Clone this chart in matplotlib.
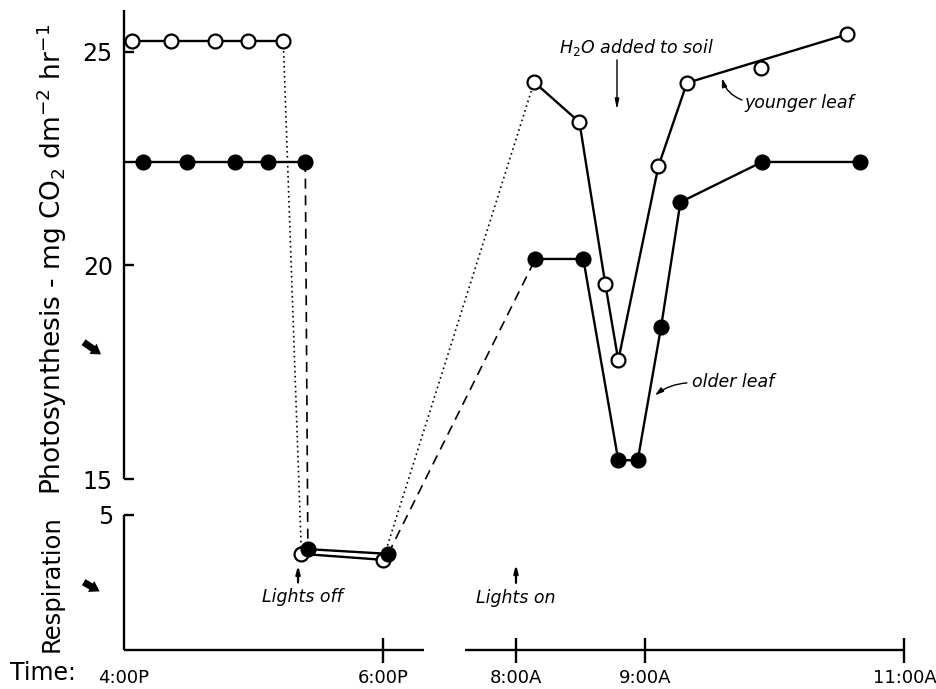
import numpy as np
import matplotlib.pyplot as plt

plt.rcParams['font.family'] = ['DejaVu Sans']
plt.rcParams['mathtext.fontset'] = 'dejavusans'

# clock time in decimal hours (16-18 = evening, 8-11 = next morning)
young_eve_t = [16.06, 16.36, 16.70, 16.96, 17.23]
young_eve_v = [25.25, 25.25, 25.25, 25.25, 25.25]
old_eve_t = [16.15, 16.49, 16.86, 17.11, 17.40]
old_eve_v = [22.42, 22.42, 22.42, 22.42, 22.42]

# respiration (dark period)
young_resp_t = [17.37, 18.00]
young_resp_v = [4.09, 3.95]
old_resp_t = [17.42, 18.04]
old_resp_v = [4.20, 4.09]

# next morning
young_morn_t = [8.14, 8.49, 8.69, 8.79, 9.10, 9.32, 10.56]
young_morn_v = [24.29, 23.35, 19.56, 17.78, 22.32, 24.27, 25.41]
young_extra_t = [9.89]
young_extra_v = [24.62]
old_morn_t = [8.15, 8.52, 8.79, 8.94, 9.12, 9.27, 9.90, 10.66]
old_morn_v = [20.15, 20.15, 15.44, 15.44, 18.55, 21.48, 22.42, 22.42]

tick_times = [16, 18, 8, 9, 11]
tick_labels = ['4:00P', '6:00P', '8:00A', '9:00A', '11:00A']
photo_ticks = [15, 20, 25]
resp_ticks = [5]

# the night is cut out of the time axis, respiration panel sits under the 15 line
MORNING_SHIFT = 4.973
RESP_SHIFT = 9.16


def xpos(h):
    h = np.asarray(h, dtype=float)
    return np.where(h >= 12, h - 16, h - MORNING_SHIFT)


def resp(r):
    return np.asarray(r, dtype=float) + RESP_SHIFT


fig = plt.figure(figsize=(9.36, 6.89), dpi=100)
ax = fig.add_axes([124 / 936, 39 / 689, 796 / 936, 640 / 689])
ax.set_xlim(0, 6.147)
ax.set_ylim(11.0, 25.976)
for s in ax.spines.values():
    s.set_visible(False)

lw = 1.7
open_style = dict(marker='o', ms=10, mfc='white', mec='black', mew=1.6, color='black', lw=lw, zorder=4)
fill_style = dict(marker='o', ms=10, mfc='black', mec='black', mew=1.6, color='black', lw=lw, zorder=4)
dot = dict(color='black', lw=1.2, ls=(0, (1, 2)), zorder=2)
dash = dict(color='black', lw=1.2, ls=(0, (6, 4)), zorder=2)

# evening photosynthesis, lines start at the axis
ax.plot(xpos([16, young_eve_t[0]]), [young_eve_v[0]] * 2, color='black', lw=lw, zorder=3)
ax.plot(xpos([16, old_eve_t[0]]), [old_eve_v[0]] * 2, color='black', lw=lw, zorder=3)
ax.plot(xpos(young_eve_t), young_eve_v, **open_style)
ax.plot(xpos(old_eve_t), old_eve_v, **fill_style)

# drop to respiration at lights off
ax.plot(xpos([young_eve_t[-1], young_resp_t[0]]), [young_eve_v[-1], resp(young_resp_v[0])], **dot)
ax.plot(xpos([old_eve_t[-1], old_resp_t[0]]), [old_eve_v[-1], resp(old_resp_v[0])], **dash)

ax.plot(xpos(young_resp_t), resp(young_resp_v), **open_style)
ax.plot(xpos(old_resp_t), resp(old_resp_v), **fill_style)

# overnight connection to the morning
ax.plot(xpos([young_resp_t[-1], young_morn_t[0]]), [resp(young_resp_v[-1]), young_morn_v[0]], **dot)
ax.plot(xpos([old_resp_t[-1], old_morn_t[0]]), [resp(old_resp_v[-1]), old_morn_v[0]], **dash)

ax.plot(xpos(young_morn_t), young_morn_v, **open_style)
ax.plot(xpos(young_extra_t), young_extra_v, ls='none', **{k: v for k, v in open_style.items() if k != 'lw'})
ax.plot(xpos(old_morn_t), old_morn_v, **fill_style)

# axis lines (broken)
axk = dict(color='black', lw=lw, clip_on=False, solid_capstyle='butt', zorder=5)
ax.plot([0, 0], [15, 25.976], **axk)
ax.plot([0, 0], [11.0, float(resp(5))], **axk)
ax.plot([0, 2.32], [11.0, 11.0], **axk)
ax.plot([2.63, float(xpos(11))], [11.0, 11.0], **axk)

ax.set_yticks(photo_ticks + list(resp(resp_ticks)),
              labels=[str(t) for t in photo_ticks] + [str(t) for t in resp_ticks])
ax.tick_params(axis='y', direction='in', length=7, width=lw, labelsize=17, pad=8)
ax.set_xticks(xpos(tick_times), labels=tick_labels)
ax.tick_params(axis='x', direction='inout', length=18, width=lw, labelsize=13, pad=5)
ax.xaxis.get_major_ticks()[0].tick1line.set_visible(False)

fig.text(10 / 936, 1 - 673 / 689, 'Time:', fontsize=17, ha='left', va='center')
fig.text(52 / 936, 1 - 259 / 689, 'Photosynthesis - mg CO$_2$ dm$^{-2}$ hr$^{-1}$',
         rotation=90, fontsize=19, ha='center', va='center')
fig.text(52 / 936, 1 - 584 / 689, 'Respiration', rotation=90, fontsize=17.5,
         ha='center', va='center')

# annotations
it = dict(fontsize=12.5, style='italic', ha='center', va='center')
ax.text(3.954, 25.11, 'H$_2$O added to soil', **it)
ax.annotate('', xy=(3.807, 23.64), xytext=(3.807, 24.81),
            arrowprops=dict(arrowstyle='-|>,head_length=0.6,head_width=0.12', lw=1, color='black',
                            shrinkA=0, shrinkB=0))
ax.text(4.795, 23.80, 'younger leaf', fontsize=12.5, style='italic', ha='left', va='center')
ax.annotate('', xy=(4.618, 24.38), xytext=(4.772, 23.87),
            arrowprops=dict(arrowstyle='-|>,head_length=0.5,head_width=0.15', lw=1, color='black',
                            connectionstyle='arc3,rad=-0.25', shrinkA=0, shrinkB=0))
ax.text(4.386, 17.27, 'older leaf', fontsize=12.5, style='italic', ha='left', va='center')
ax.annotate('', xy=(4.10, 16.96), xytext=(4.347, 17.25),
            arrowprops=dict(arrowstyle='-|>,head_length=0.5,head_width=0.15', lw=1, color='black',
                            connectionstyle='arc3,rad=0.15', shrinkA=0, shrinkB=0))
ax.text(1.375, float(resp(3.08)), 'Lights off', **it)
ax.annotate('', xy=(1.344, float(resp(3.82))), xytext=(1.344, float(resp(3.42))),
            arrowprops=dict(arrowstyle='-|>,head_length=0.45,head_width=0.12', lw=1.6, color='black',
                            shrinkA=0, shrinkB=0))
ax.text(3.027, float(resp(3.06)), 'Lights on', **it)
ax.annotate('', xy=(3.027, float(resp(3.84))), xytext=(3.027, float(resp(3.41))),
            arrowprops=dict(arrowstyle='-|>,head_length=0.45,head_width=0.12', lw=1.6, color='black',
                            shrinkA=0, shrinkB=0))

# small bold arrows on the left
for tail, tip in [((-0.33, 18.24), (-0.16, 17.88)), ((-0.33, 12.62), (-0.17, 12.34))]:
    ax.annotate('', xy=tip, xytext=tail, annotation_clip=False,
                arrowprops=dict(arrowstyle='simple,head_length=0.7,head_width=0.9,tail_width=0.5',
                                color='black', lw=0))

fig.savefig('out.png', dpi=100)
